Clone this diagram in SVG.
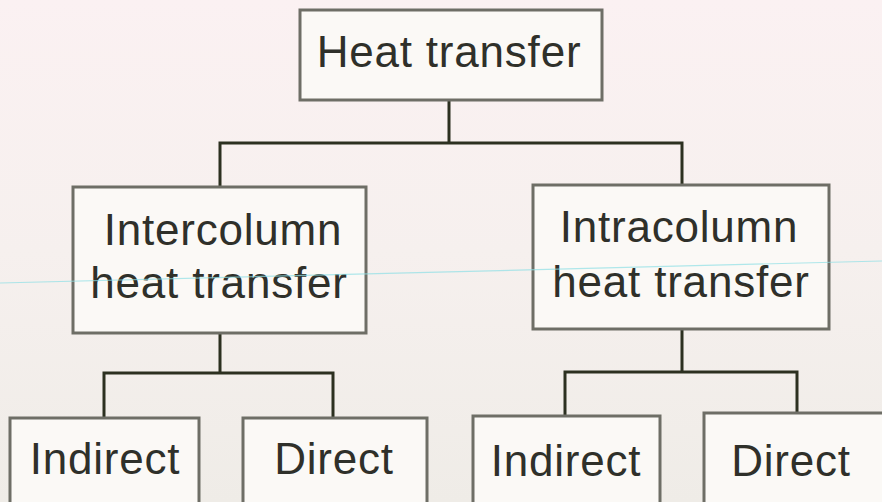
<svg xmlns="http://www.w3.org/2000/svg" width="882" height="502" viewBox="0 0 882 502">
<defs>
<linearGradient id="bg" x1="0" y1="0" x2="0" y2="1">
<stop offset="0" stop-color="#fbf1f2"/>
<stop offset="0.5" stop-color="#f6f0ee"/>
<stop offset="1" stop-color="#efece7"/>
</linearGradient>
<style>
.box{fill:#fbf9f6;stroke:#6e6e66;stroke-width:3}
.lbl{font-family:"Liberation Sans",Arial,sans-serif;font-size:44px;fill:#2f302a;text-anchor:middle;letter-spacing:0.8px}
.con{fill:none;stroke:#2c3020;stroke-width:3;stroke-linecap:square}
</style>
</defs>
<rect x="0" y="0" width="882" height="502" fill="url(#bg)"/>
<g id="connectors">
<path class="con" d="M449 100 V143 M220 187 V143 H682 V185"/>
<path class="con" d="M220 333 V373 M104 417 V373 H333 V417"/>
<path class="con" d="M682 329 V372 M565 415 V372 H797 V413"/>
</g>
<g id="n-heat">
<rect class="box" x="300" y="10" width="302" height="90"/>
<text class="lbl" x="449" y="67">Heat transfer</text>
</g>
<g id="n-inter">
<rect class="box" x="73" y="187" width="293" height="146"/>
<text class="lbl" x="223" y="245">Intercolumn</text>
<text class="lbl" x="219" y="298">heat transfer</text>
</g>
<g id="n-intra">
<rect class="box" x="533" y="185" width="296" height="144"/>
<text class="lbl" x="679" y="242">Intracolumn</text>
<text class="lbl" x="681" y="297">heat transfer</text>
</g>
<g id="n-ind1">
<rect class="box" x="10" y="418" width="189" height="100"/>
<text class="lbl" x="105" y="474">Indirect</text>
</g>
<g id="n-dir1">
<rect class="box" x="243" y="418" width="184" height="100"/>
<text class="lbl" x="334" y="474">Direct</text>
</g>
<g id="n-ind2">
<rect class="box" x="473" y="416" width="187" height="100"/>
<text class="lbl" x="566" y="476">Indirect</text>
</g>
<g id="n-dir2">
<rect class="box" x="704" y="413" width="190" height="100"/>
<text class="lbl" x="791" y="476">Direct</text>
</g>
<line x1="0" y1="283" x2="882" y2="261" stroke="#8fe0e6" stroke-width="1.2" opacity="0.7"/>
</svg>
